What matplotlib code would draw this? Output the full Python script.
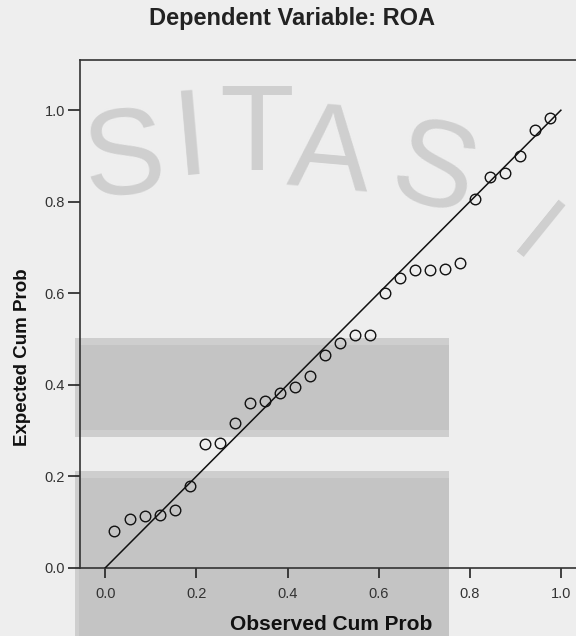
import matplotlib
matplotlib.use("Agg")
import matplotlib.pyplot as plt
from matplotlib.patches import Rectangle

# ---- data ----
observed = [0.020, 0.053, 0.086, 0.119, 0.152, 0.185, 0.218, 0.251, 0.284, 0.317,
            0.350, 0.383, 0.416, 0.449, 0.482, 0.515, 0.548, 0.581, 0.614, 0.647,
            0.680, 0.713, 0.746, 0.779, 0.812, 0.845, 0.878, 0.911, 0.944, 0.977]
expected = [0.081, 0.106, 0.113, 0.116, 0.126, 0.178, 0.271, 0.273, 0.317, 0.361,
            0.364, 0.381, 0.396, 0.419, 0.465, 0.491, 0.509, 0.509, 0.600, 0.634,
            0.651, 0.651, 0.654, 0.667, 0.807, 0.853, 0.863, 0.899, 0.957, 0.982]
ref_x = [0.0, 1.0]
ref_y = [0.0, 1.0]
ticks = [0.0, 0.2, 0.4, 0.6, 0.8, 1.0]
tick_labels = ["0.0", "0.2", "0.4", "0.6", "0.8", "1.0"]
title = "Dependent Variable: ROA"
xlabel = "Observed Cum Prob"
ylabel = "Expected Cum Prob"
watermark = [("S", 124, 162, 5, 88), ("I", 191, 142, 5, 88),
             ("T", 257, 138, 0, 88), ("A", 329, 157, -5, 88), ("S", 433, 175, -15, 88),
             ("I", 533, 240, -39, 70)]

W, H = 576, 636
plt.rcParams['font.family'] = ['Liberation Sans', 'DejaVu Sans']
fig = plt.figure(figsize=(W / 100, H / 100), dpi=100)
fig.patch.set_facecolor('#eeeeee')

def fx(px):
    return px / W

def fy(py):
    return 1 - py / H

# background watermark rectangles
for (x0, x1, yo0, yc0, yc1, yo1) in [(75, 449, 338, 345, 430, 437),
                                     (75, 449, 471, 478, 640, 640)]:
    fig.patches.append(Rectangle((fx(x0), fy(yo1)), fx(x1) - fx(x0), fy(yo0) - fy(yo1),
                                 transform=fig.transFigure, facecolor='#cecece',
                                 edgecolor='none', zorder=-6))
    fig.patches.append(Rectangle((fx(x0 + 4), fy(yc1)), fx(x1) - fx(x0 + 4), fy(yc0) - fy(yc1),
                                 transform=fig.transFigure, facecolor='#c4c4c4',
                                 edgecolor='none', zorder=-5))

# watermark letters
for ch, px, py, rot, fs in watermark:
    fig.text(fx(px), fy(py), ch, fontsize=fs, color='#cfcfcf', rotation=rot,
             ha='center', va='center', zorder=-4)

# axes
left, right, top, bottom = 79.7, 588.2, 59.9, 567.7
ax = fig.add_axes([fx(left), fy(bottom), fx(right) - fx(left), fy(top) - fy(bottom)])
ax.set_facecolor('none')
ax.set_xlim(-0.0564, 1.06)
ax.set_ylim(0, 1.11)

ax.plot(ref_x, ref_y, color='#111111', lw=1.1, zorder=3)
ax.plot(observed, expected, linestyle='none', marker='o', markersize=7.6,
        markerfacecolor='none', markeredgecolor='#111111', markeredgewidth=1.0, zorder=4)

ax.set_xticks(ticks)
ax.set_xticklabels(tick_labels)
ax.set_yticks(ticks)
ax.set_yticklabels(tick_labels)
ax.tick_params(axis='x', direction='out', length=7.2, width=1.2, pad=7,
               labelsize=10.5, colors='#222222', labelcolor='#333333')
ax.tick_params(axis='y', direction='out', length=8.6, width=1.2, pad=2,
               labelsize=10.5, colors='#222222', labelcolor='#333333')
for s in ['left', 'bottom', 'top', 'right']:
    ax.spines[s].set_color('#333333')
    ax.spines[s].set_linewidth(1.2)

fig.text(fx(291.7), fy(25), title, fontsize=17, fontweight='bold', color='#222222',
         ha='center', va='baseline')
fig.text(fx(331), fy(630), xlabel, fontsize=15, fontweight='bold', color='#111111',
         ha='center', va='baseline')
fig.text(fx(23), fy(357.5), ylabel, fontsize=13.5, fontweight='bold', color='#111111',
         rotation=90, ha='center', va='center')

fig.savefig('out.png', dpi=100, facecolor=fig.get_facecolor())
